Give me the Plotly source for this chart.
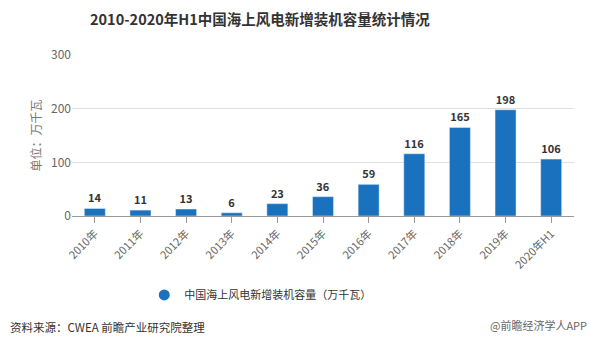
import plotly.graph_objects as go

categories = ["2010年", "2011年", "2012年", "2013年", "2014年", "2015年",
              "2016年", "2017年", "2018年", "2019年", "2020年H1"]
values = [14, 11, 13, 6, 23, 36, 59, 116, 165, 198, 106]
series_name = "中国海上风电新增装机容量（万千瓦）"
y_ticks = [0, 100, 200, 300]

color = "#1a72bf"
font = "Noto Sans CJK SC"

fig = go.Figure()
fig.add_trace(go.Bar(
    x=categories, y=values, marker_color=color, showlegend=False,
    text=[str(v) for v in values], textposition="outside",
    textfont=dict(size=11, color="#333333", family=font),
    texttemplate="<b>%{text}</b>", cliponaxis=False,
))
fig.add_trace(go.Scatter(
    x=[None], y=[None], mode="markers", name=series_name,
    marker=dict(symbol="circle", size=11, color=color),
))

fig.update_layout(
    width=590, height=348,
    margin=dict(l=72, r=16, t=55, b=132),
    paper_bgcolor="white", plot_bgcolor="white",
    bargap=0.54,
    font=dict(family=font),
    legend=dict(orientation="h", x=0.375, xanchor="center", y=-0.49, yanchor="middle",
                font=dict(size=11, color="#333333", family=font),
                itemwidth=30),
    xaxis=dict(tickangle=-45, tickfont=dict(size=11, color="#666666", family=font),
               showline=True, linecolor="#999999", linewidth=1,
               ticks="outside", tickcolor="#999999", ticklen=6,
               showgrid=False),
    yaxis=dict(range=[0, 300], tickvals=y_ticks, showgrid=True,
               gridcolor="#e0e0e0", zeroline=False,
               tickfont=dict(size=12, color="#666666", family=font),
               title=dict(text="单位：万千瓦", font=dict(size=12, color="#777777", family=font),
                          standoff=6),
               ticks="", showline=False),
)

fig.add_annotation(text="<b>2010-2020年H1中国海上风电新增装机容量统计情况</b>",
                   xref="paper", yref="paper", x=0.375, y=1.0, yshift=37,
                   xanchor="center", yanchor="middle", showarrow=False,
                   font=dict(size=14.5, color="#333333", family=font))
fig.add_annotation(text="资料来源：CWEA 前瞻产业研究院整理", xref="paper", yref="paper",
                   x=-0.127, y=-0.69, xanchor="left", yanchor="middle", showarrow=False,
                   font=dict(size=11.5, color="#333333", family=font))
fig.add_annotation(text="@前瞻经济学人APP", xref="paper", yref="paper",
                   x=1.03, y=-0.68, xanchor="right", yanchor="middle", showarrow=False,
                   font=dict(size=11, color="#666666", family=font))

fig.write_html("out.html")
